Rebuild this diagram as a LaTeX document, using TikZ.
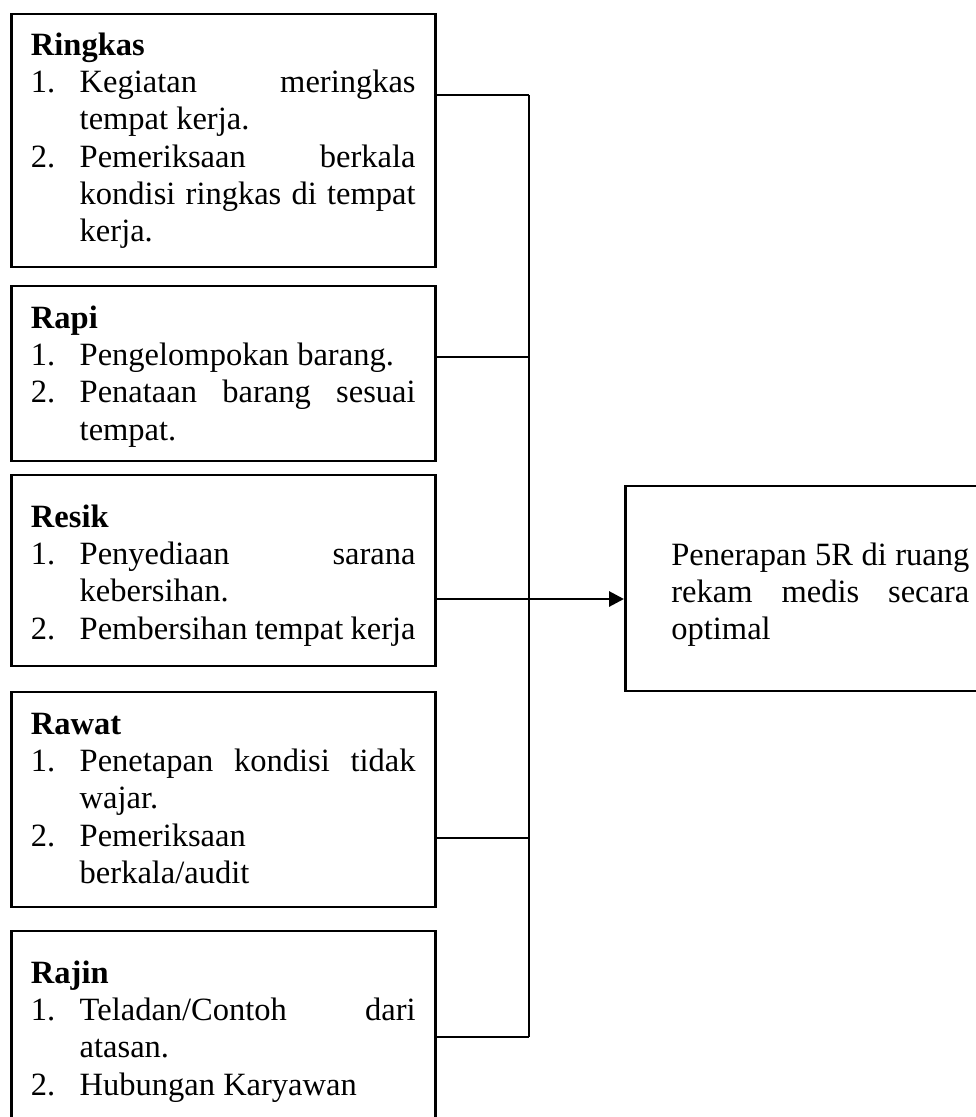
\documentclass[tikz,border=0pt]{standalone}
\usepackage{fontspec}
\setmainfont{Liberation Serif}
\usetikzlibrary{arrows.meta}
\hyphenpenalty=10000
\exhyphenpenalty=10000
\tolerance=9999

% numbered line with hanging indent
\newcommand{\boxitem}[2]{\par\noindent\hangindent=18pt\hangafter=1\makebox[18pt][l]{#1.}#2\par}

\begin{document}
\begin{tikzpicture}[
    x=0.3692pt, y=-0.3692pt,
    itembox/.style={rectangle, draw, line width=1pt, anchor=base west,
                    text width=142pt, inner xsep=7.25pt, inner ysep=0pt,
                    align=justify, font=\fontsize{12}{13.8}\selectfont},
    goalbox/.style={itembox, text width=110pt, inner xsep=17pt},
    link/.style={line width=0.85pt},
    flow/.style={line width=1.1pt, -{Triangle[length=5.5pt, width=5.5pt]}},
]
    \useasboundingbox (0,0) rectangle (976,1117);
    \clip (0,0) rectangle (976,1117);

    % The five R boxes
    \node[itembox, text height=15.14pt, text depth=78.27pt] (ringkas) at (10,55)
        {\textbf{Ringkas}\par
         \boxitem{1}{Kegiatan meringkas\linebreak tempat kerja.}
         \boxitem{2}{Pemeriksaan berkala\linebreak kondisi ringkas di tempat\linebreak kerja.}};
    \node[itembox, text height=15.51pt, text depth=49.10pt] (rapi) at (10,328)
        {\textbf{Rapi}\par
         \boxitem{1}{Pengelompokan barang.}
         \boxitem{2}{Penataan barang sesuai\linebreak tempat.}};
    \node[itembox, text height=19.20pt, text depth=51.32pt] (resik) at (10,527)
        {\textbf{Resik}\par
         \boxitem{1}{Penyediaan sarana\linebreak kebersihan.}
         \boxitem{2}{Pembersihan tempat kerja}};
    \node[itembox, text height=15.51pt, text depth=63.87pt] (rawat) at (10,734)
        {\textbf{Rawat}\par
         \boxitem{1}{Penetapan kondisi tidak\linebreak wajar.}
         \boxitem{2}{Pemeriksaan\linebreak berkala/audit}};
    \node[itembox, text height=19.20pt, text depth=57.96pt] (rajin) at (10,983)
        {\textbf{Rajin}\par
         \boxitem{1}{Teladan/Contoh dari\linebreak atasan.}
         \boxitem{2}{Hubungan Karyawan}};

    % Result box
    \node[goalbox, text height=29.17pt, text depth=46.52pt] (goal) at (624,565)
        {Penerapan 5R di ruang rekam medis secara optimal};

    % Bus connecting the boxes
    \foreach \name/\y in {ringkas/95, rapi/357, resik/599, rawat/838, rajin/1037} {
        \coordinate (bus-\name) at (529,\y);
        \draw[link] (\name.east |- bus-\name) -- (bus-\name);
    }
    \draw[link] (bus-ringkas) -- (bus-rajin);
    \draw[flow] (bus-resik) -- (goal.west |- bus-resik);
\end{tikzpicture}
\end{document}
